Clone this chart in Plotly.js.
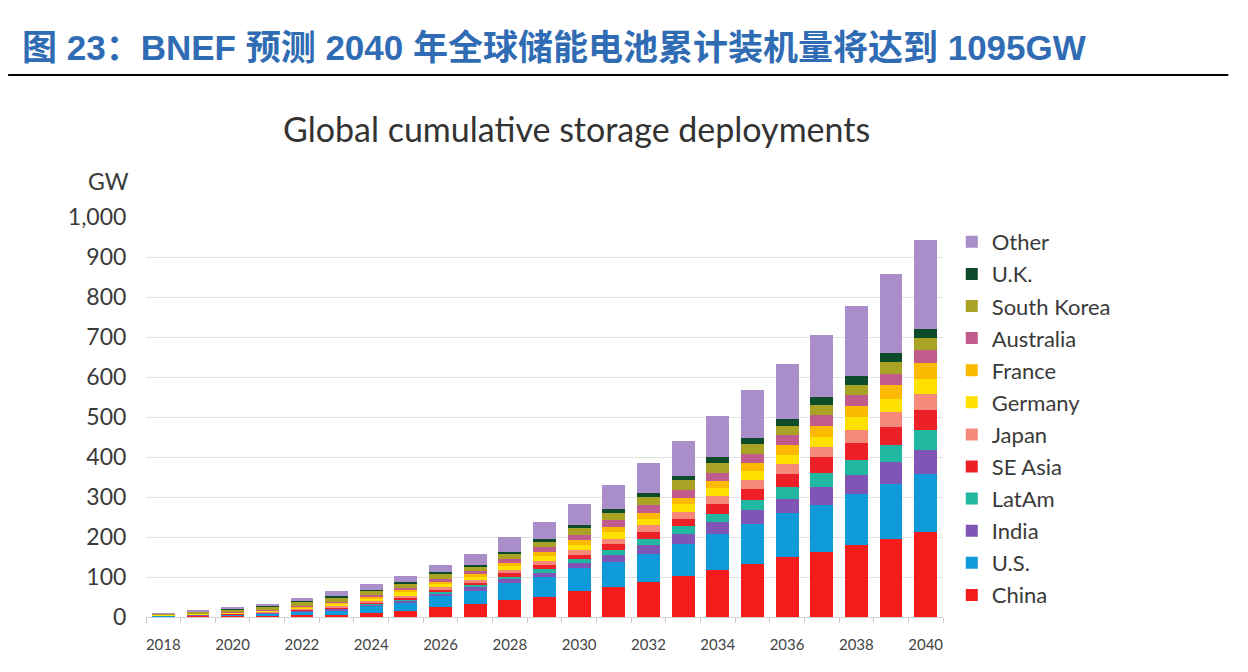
<!DOCTYPE html>
<html>
<head>
<meta charset="utf-8">
<script src="https://cdn.plot.ly/plotly-3.0.1.min.js"></script>
<style>
html,body{margin:0;padding:0;background:#fff;}
#chart{width:1248px;height:672px;}
</style>
</head>
<body>
<div id="chart"></div>
<script>
const years = [2018,2019,2020,2021,2022,2023,2024,2025,2026,2027,2028,2029,2030,2031,2032,2033,2034,2035,2036,2037,2038,2039,2040];
const xTickLabels = ['2018','2020','2022','2024','2026','2028','2030','2032','2034','2036','2038','2040'];
const xTickVals = [2018,2020,2022,2024,2026,2028,2030,2032,2034,2036,2038,2040];

const china     = [1, 1.5, 2, 3, 4, 5, 10, 15, 25, 33, 42, 51, 65, 75, 88, 102, 117, 133, 149, 163, 179, 196, 213];
const us        = [1, 2, 3, 5, 8, 11, 18, 20, 27, 33, 42, 49, 58, 63, 70, 81, 90, 99, 110, 116, 129, 137, 145];
const india     = [0.2, 0.3, 0.5, 1, 2, 3, 3, 5, 6, 8, 10, 11, 12, 16, 21, 25, 31, 35, 37, 46, 46, 55, 59];
const latam     = [0.2, 0.4, 0.5, 1, 1.5, 2, 2, 3, 5, 5, 7, 9, 10, 13, 17, 19, 20, 25, 29, 35, 39, 41, 50];
const seAsia    = [0.2, 0.3, 0.5, 0.7, 1.5, 2, 2, 4, 5, 6, 8, 10, 11, 16, 16, 19, 24, 29, 32, 39, 41, 46, 50];
const japan     = [0.6, 1, 1.5, 2, 3, 4, 4, 6, 6, 7, 8, 11, 11, 13, 17, 17, 20, 22, 25, 26, 34, 38, 40];
const germany   = [0.6, 1.2, 2, 2.5, 3.5, 4.5, 6, 9, 9, 9, 10, 12, 14, 17, 17, 19, 21, 22, 22, 25, 32, 33, 39];
const france    = [0.2, 0.3, 0.5, 0.8, 1.5, 2.5, 4, 5, 5, 6, 8, 9, 11, 12, 14, 16, 17, 20, 25, 27, 27, 33, 39];
const australia = [0.4, 1, 1.5, 2, 3, 4.5, 5, 6, 8, 8, 10, 13, 14, 17, 19, 20, 20, 23, 25, 27, 27, 29, 32];
const southKorea= [2.5, 4.5, 6, 7.5, 9, 9.5, 10, 10, 11, 11, 13, 13, 16, 18, 21, 24, 24, 24, 24, 25, 25, 30, 31];
const uk        = [0.7, 1.2, 1.5, 2, 3, 4, 4, 5, 5, 5, 5, 7, 7, 9, 10, 11, 16, 16, 18, 20, 23, 23, 23];
const other     = [1.5, 3.3, 4.5, 5.5, 8, 12, 14, 14, 19, 27, 36, 43, 53, 60, 75, 87, 102, 120, 137, 155, 175, 197, 222];

const seriesNames = ['China','U.S.','India','LatAm','SE Asia','Japan','Germany','France','Australia','South Korea','U.K.','Other'];
const seriesData  = [china, us, india, latam, seAsia, japan, germany, france, australia, southKorea, uk, other];
const seriesColors = ['#f41b1b','#0f9bd9','#7f55b5','#22b7a0','#ee2027','#f7897a','#ffe100','#fbb900','#c25b8d','#a9a225','#0e4b2a','#a98ec9'];

const traces = seriesNames.map((n, i) => ({
  type: 'bar',
  name: n,
  x: years,
  y: seriesData[i],
  legendgroup: n,
  legendrank: 1000 - i,
  marker: {color: seriesColors[i], line: {width: 0}},
  hoverinfo: 'x+y+name'
}));

const layout = {
  width: 1248, height: 672,
  paper_bgcolor: '#fff', plot_bgcolor: '#fff',
  margin: {l: 146, r: 305, t: 217, b: 55},
  barmode: 'stack',
  bargap: 0.34,
  font: {family: 'Lato, "Open Sans", sans-serif', color: '#3a3a3a'},
  xaxis: {
    range: [2017.5, 2040.5],
    tickmode: 'array', tickvals: xTickVals, ticktext: xTickLabels,
    ticks: 'outside', ticklen: 14, tickcolor: 'rgba(0,0,0,0)',
    minor: {tickmode: 'linear', tick0: 2017.5, dtick: 1, ticks: 'outside', ticklen: 5, tickcolor: '#c8c8c8', tickwidth: 1, showgrid: false},
    showgrid: false, zeroline: false,
    showline: true, linecolor: '#d0d0d0', linewidth: 1,
    tickfont: {size: 15, color: '#444'}
  },
  yaxis: {
    range: [0, 1000],
    tickmode: 'array', tickvals: [0,100,200,300,400,500,600,700,800,900,1000],
    tickformat: ',d',
    ticks: 'outside', ticklen: 14, tickcolor: 'rgba(0,0,0,0)',
    showgrid: true, gridcolor: '#e2e2e2', gridwidth: 1,
    zeroline: false, showline: false,
    tickfont: {size: 23, color: '#3a3a3a'}
  },
  legend: {
    x: 1.011, xanchor: 'left', y: 0.99, yanchor: 'top',
    traceorder: 'grouped',
    tracegroupgap: 0.5,
    font: {size: 22, color: '#3a3a3a'},
    bgcolor: 'rgba(0,0,0,0)'
  },
  showlegend: true,
  annotations: [
    {text: '<b>图 23：BNEF 预测 2040 年全球储能电池累计装机量将达到 1095GW</b>',
     xref: 'paper', yref: 'paper', x: -0.158, y: 1.4225, xanchor: 'left', yanchor: 'middle',
     showarrow: false,
     font: {family: '"Liberation Sans", Arial, "Noto Sans CJK SC", sans-serif', size: 35, color: '#2f6cb3'}},
    {text: 'Global cumulative storage deployments',
     xref: 'paper', yref: 'paper', x: 0.54, y: 1.222, xanchor: 'center', yanchor: 'middle',
     showarrow: false,
     font: {family: 'Lato, "Open Sans", sans-serif', size: 34, color: '#333'}},
    {text: 'GW',
     xref: 'paper', yref: 'paper', x: -0.047, y: 1.09, xanchor: 'center', yanchor: 'middle',
     showarrow: false,
     font: {family: 'Lato, "Open Sans", sans-serif', size: 23, color: '#3a3a3a'}}
  ],
  shapes: [
    {type: 'line', xref: 'paper', yref: 'paper', x0: -0.173, x1: 1.358, y0: 1.355, y1: 1.355,
     line: {color: '#000', width: 2}}
  ]
};

Plotly.newPlot('chart', traces, layout, {displayModeBar: false, staticPlot: true});
</script>
</body>
</html>
